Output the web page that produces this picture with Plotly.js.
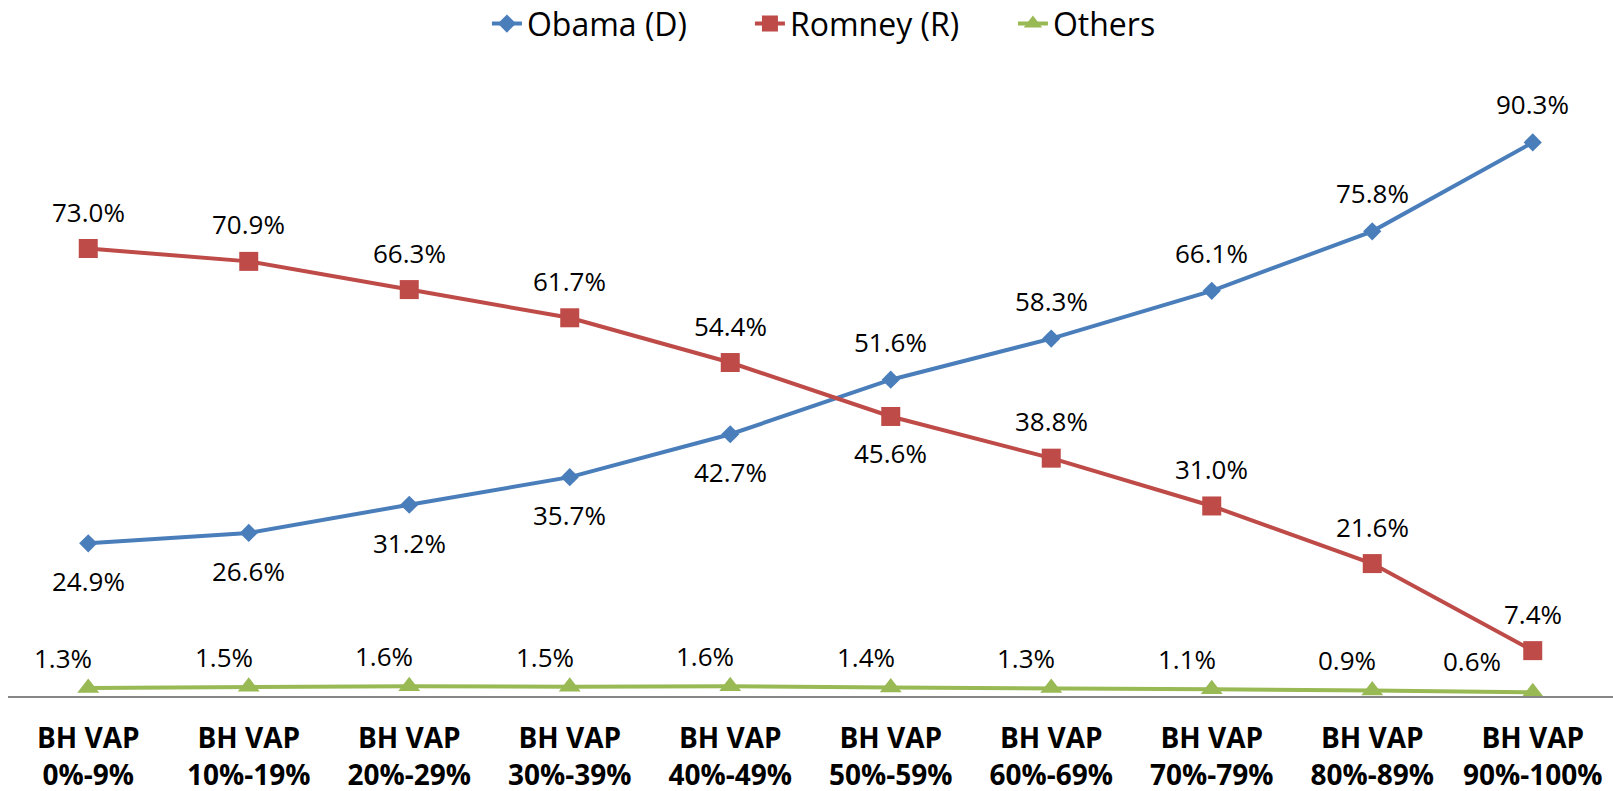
<!DOCTYPE html>
<html>
<head>
<meta charset="utf-8">
<script src="https://cdn.plot.ly/plotly-3.0.1.min.js"></script>
<style>
  html, body { margin: 0; padding: 0; background: #ffffff; }
  #chart { width: 1613px; height: 791px; }
</style>
</head>
<body>
<div id="chart"></div>
<script>
// Vote share by Black + Hispanic voting-age population band
const categories = [
  'BH VAP<br>0%-9%', 'BH VAP<br>10%-19%', 'BH VAP<br>20%-29%', 'BH VAP<br>30%-39%',
  'BH VAP<br>40%-49%', 'BH VAP<br>50%-59%', 'BH VAP<br>60%-69%', 'BH VAP<br>70%-79%',
  'BH VAP<br>80%-89%', 'BH VAP<br>90%-100%'
];
const obama  = [24.9, 26.6, 31.2, 35.7, 42.7, 51.6, 58.3, 66.1, 75.8, 90.3];
const romney = [73.0, 70.9, 66.3, 61.7, 54.4, 45.6, 38.8, 31.0, 21.6, 7.4];
const others = [1.3, 1.5, 1.6, 1.5, 1.6, 1.4, 1.3, 1.1, 0.9, 0.6];

// where each value label sits relative to its point
const obamaLabelSide  = ['below', 'below', 'below', 'below', 'below', 'above', 'above', 'above', 'above', 'above'];
const romneyLabelSide = ['above', 'above', 'above', 'above', 'above', 'below', 'above', 'above', 'above', 'above'];
const othersLabelSide = ['aboveLeft', 'aboveLeft', 'aboveLeft', 'aboveLeft', 'aboveLeft',
                         'aboveLeft', 'aboveLeft', 'aboveLeft', 'aboveLeft', 'left'];

const BLUE = '#4A7EBB', RED = '#BE4B48', GREEN = '#98B954';
const FONT = '"Open Sans", "Liberation Sans", sans-serif';

function series(name, values, color, symbol, size) {
  return {
    type: 'scatter', mode: 'lines+markers', name: name,
    x: categories, y: values,
    line: { color: color, width: 4 },
    marker: { color: color, symbol: symbol, size: size, line: { width: 0 } },
    cliponaxis: false, hoverinfo: 'skip'
  };
}

function labels(values, sides, gap) {
  return values.map((v, i) => {
    const side = sides[i];
    let xs = 0, ys = 0;
    if (side === 'above') ys = gap;
    else if (side === 'below') ys = -gap;
    else if (side === 'aboveLeft') { xs = -25; ys = gap; }
    else if (side === 'left') { xs = -61; ys = gap + 1; }
    return {
      x: categories[i], y: v, xref: 'x', yref: 'y',
      text: v.toFixed(1) + '%', showarrow: false,
      xshift: xs, yshift: ys,
      font: { family: FONT, size: 26, color: '#000000' }
    };
  });
}

const data = [
  series('Obama (D)', obama, BLUE, 'diamond', 14),
  series('Romney (R)', romney, RED, 'square', 19),
  series('Others', others, GREEN, 'triangle-up', 19)
];

const annotations = []
  .concat(labels(obama, obamaLabelSide, 38))
  .concat(labels(romney, romneyLabelSide, 37))
  .concat(labels(others, othersLabelSide, 30));

const layout = {
  width: 1613, height: 791,
  margin: { l: 8, r: 0, t: 83, b: 95, autoexpand: false },
  paper_bgcolor: '#ffffff', plot_bgcolor: '#ffffff',
  font: { family: FONT, color: '#000000' },
  showlegend: true,
  legend: {
    orientation: 'h', x: 0.2984, xanchor: 'left', xref: 'paper',
    y: 1.1415, yanchor: 'top', yref: 'paper',
    entrywidth: 218, entrywidthmode: 'pixels',
    font: { family: FONT, size: 32, color: '#000000' },
    bgcolor: 'rgba(0,0,0,0)', itemclick: false
  },
  xaxis: {
    type: 'category', range: [-0.5, 9.5],
    showline: true, linecolor: '#868686', linewidth: 1.5,
    showgrid: false, zeroline: false, ticks: '',
    ticklabelstandoff: 17,
    tickfont: { family: FONT, size: 28, color: '#000000', weight: 'bold' },
    fixedrange: true
  },
  yaxis: {
    range: [0, 100], visible: false, showgrid: false, zeroline: false, fixedrange: true
  },
  annotations: annotations
};

Plotly.newPlot('chart', data, layout, { displayModeBar: false, staticPlot: true });
</script>
</body>
</html>
